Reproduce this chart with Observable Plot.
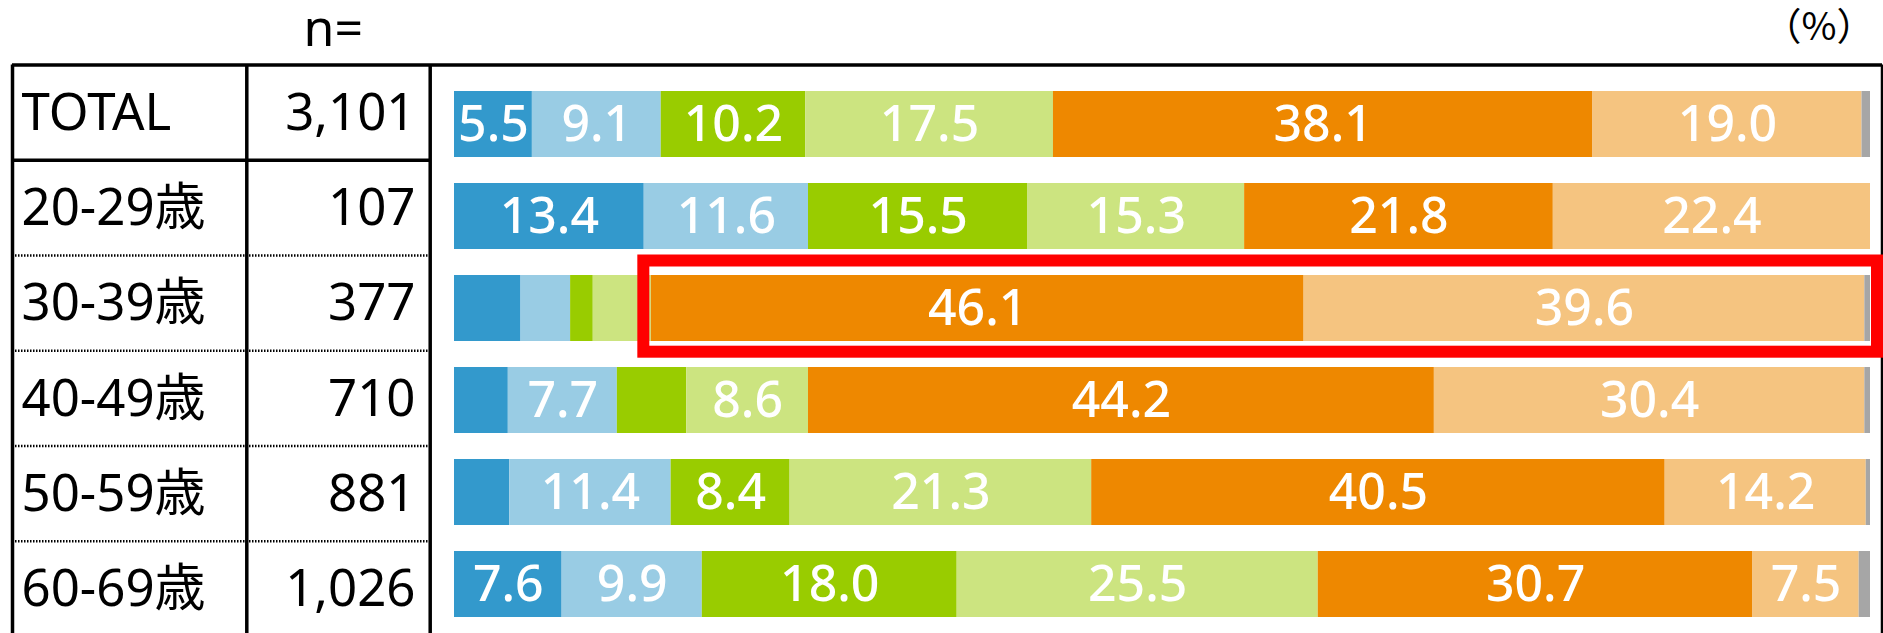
<!DOCTYPE html>
<html><head><meta charset="utf-8">
<script src="https://cdn.jsdelivr.net/npm/d3@7"></script>
<script src="https://cdn.jsdelivr.net/npm/@observablehq/plot@0.6"></script>
<style>
html,body{margin:0;padding:0;background:#fff;overflow:hidden}
#wrap{position:relative;width:1883px;height:633px;overflow:hidden}
#wrap svg{position:absolute;left:0;top:0;overflow:visible}
</style></head><body><div id="wrap"></div>
<script>
// ---- data ----
const groups = ["TOTAL","20-29歳","30-39歳","40-49歳","50-59歳","60-69歳"];
const sampleSizes = [3101,107,377,710,881,1026];
const seriesNames = ["項目1","項目2","項目3","項目4","項目5","項目6","無回答"];
const seriesColors = ["#3399cc","#99cce4","#99cc00","#cce480","#ee8800","#f5c480","#a6a6a6"];
const s1 = [5.5,13.4,4.7,3.8,3.9,7.6];
const s2 = [9.1,11.6,3.5,7.7,11.4,9.9];
const s3 = [10.2,15.5,1.6,4.9,8.4,18.0];
const s4 = [17.5,15.3,4.1,8.6,21.3,25.5];
const s5 = [38.1,21.8,46.1,44.2,40.5,30.7];
const s6 = [19.0,22.4,39.6,30.4,14.2,7.5];
const s7 = [0.6,0.0,0.4,0.4,0.3,0.8];
const highlightGroup = "30-39歳";
const highlightFrom = "項目5";
const nLabel = "n=";
const unitLabel = "（%）";
const labelThreshold = 5;

// ---- layout (pixels) ----
const W = 1883, H = 633;
const layout = {
  tableLeft: 12, col1: 246.3, col2: 429.7, tableRight: 1882,
  tableTop: 64.5, tableBottom: 636,
  labelX: 21, nX: 415,
  barLeft: 454, barRight: 1870, barTop: 77.6, barBottom: 630.8
};
const font = "'Noto Sans', 'Noto Sans CJK JP', sans-serif";

const seriesArrays = [s1,s2,s3,s4,s5,s6,s7];
const rows = groups.flatMap((g,i) => seriesArrays.map((arr,j) => ({group: g, series: seriesNames[j], value: arr[i]})));
const rowIndex = groups.map((g,i) => i);

const hi = groups.indexOf(highlightGroup);
const hiVals = seriesArrays.map(a => a[hi]);
const hiStart = seriesNames.indexOf(highlightFrom);
const highlight = [{group: highlightGroup, x1: d3.sum(hiVals.slice(0, hiStart)), x2: d3.sum(hiVals)}];

// ---- table plot ----
const table = Plot.plot({
  width: W, height: 640, margin: 0,
  style: {fontFamily: font, background: "transparent", color: "#000", overflow: "visible"},
  x: {domain: [0, W], range: [0, W], axis: null},
  y: {domain: [0, groups.length], range: [layout.tableTop, layout.tableBottom], axis: null},
  marks: [
    Plot.ruleY([0], {x1: layout.tableLeft, x2: layout.tableRight, strokeWidth: 3.5, stroke: "#000"}),
    Plot.ruleY([1], {x1: layout.tableLeft, x2: layout.col2, strokeWidth: 3.5, stroke: "#000"}),
    Plot.ruleY(d3.range(2, groups.length), {x1: layout.tableLeft, x2: layout.col2, strokeWidth: 2.5, stroke: "#000", strokeDasharray: "1.5,1.5"}),
    Plot.ruleX([layout.tableLeft, layout.col1, layout.col2, layout.tableRight], {y1: 0, y2: groups.length, strokeWidth: 3.5, stroke: "#000"}),
    Plot.text(rowIndex, {x: layout.labelX, y: i => i + 0.5, text: i => groups[i], textAnchor: "start", fontSize: 51, fill: "#000", dy: 1}),
    Plot.text(rowIndex, {x: layout.nX, y: i => i + 0.5, text: i => d3.format(",")(sampleSizes[i]), textAnchor: "end", fontSize: 51, fill: "#000", dy: 1}),
    Plot.text([nLabel], {frameAnchor: "top-left", lineAnchor: "middle", dx: 303, dy: 29, text: d => d, textAnchor: "start", fontSize: 50, fill: "#000"}),
    Plot.text([unitLabel], {frameAnchor: "top-left", lineAnchor: "middle", dx: 1874, dy: 27, text: d => d, textAnchor: "end", fontSize: 38, fill: "#000", fontFamily: "'Noto Sans CJK JP', sans-serif"})
  ]
});

// ---- bar plot ----
const bars = Plot.plot({
  width: W, height: H,
  marginLeft: layout.barLeft, marginRight: W - layout.barRight,
  marginTop: layout.barTop, marginBottom: H - layout.barBottom,
  style: {fontFamily: font, background: "transparent"},
  x: {domain: [0, 100], axis: null},
  y: {domain: groups, paddingInner: 0.284, paddingOuter: 0.142, axis: null},
  color: {domain: seriesNames, range: seriesColors},
  marks: [
    Plot.barX(rows, {x: "value", y: "group", fill: "series", order: seriesNames}),
    Plot.text(rows, Plot.stackX({x: "value", y: "group", z: "series", order: seriesNames,
      text: d => d.value >= labelThreshold ? d.value.toFixed(1) : null,
      fill: "white", fontSize: 50, fontWeight: 500})),
    Plot.barX(highlight, {x1: "x1", x2: "x2", y: "group", fill: "none", stroke: "#ff0000", strokeWidth: 12,
      insetLeft: -7.5, insetRight: -7, insetTop: -14.5, insetBottom: -10.7})
  ]
});

const wrap = document.getElementById("wrap");
wrap.appendChild(table);
wrap.appendChild(bars);
</script>
</body></html>
